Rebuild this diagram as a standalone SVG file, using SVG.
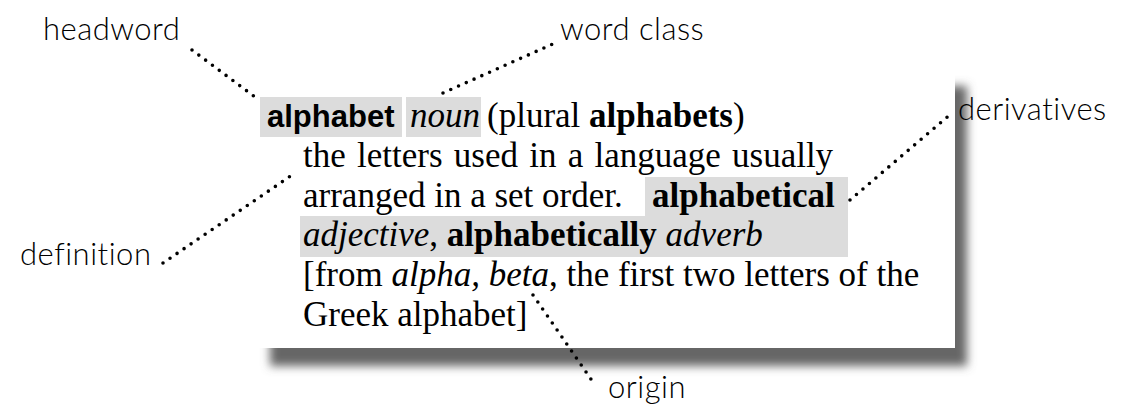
<svg xmlns="http://www.w3.org/2000/svg" width="1135" height="410" viewBox="0 0 1135 410">
<style>
.lbl{font-family:Lato,"Open Sans",sans-serif;font-weight:300;font-size:31px;letter-spacing:0.5px;fill:#000}
.ser{font-family:"Liberation Serif","Times New Roman",serif;font-size:35px;fill:#000}
.b{font-weight:bold}
.i{font-style:italic}
.hw{font-family:"Liberation Sans",Arial,sans-serif;font-weight:bold;font-size:31px}
.hl{fill:#dcdcdc}
.dot{stroke:#000;stroke-width:3.6;stroke-linecap:round;stroke-dasharray:0 8.5;fill:none}
</style>
<defs>
<filter id="sh" x="-10%" y="-10%" width="120%" height="130%">
<feGaussianBlur stdDeviation="5"/>
</filter>
</defs>
<rect width="1135" height="410" fill="#fff"/>
<g id="card">
<rect x="270" y="86" width="697" height="280" fill="#666" filter="url(#sh)"/>
<rect x="258" y="70" width="697" height="278" fill="#fff"/>
<rect class="hl" x="260" y="97" width="142" height="40"/>
<rect class="hl" x="406" y="97" width="75" height="40"/>
<rect class="hl" x="645" y="177" width="203" height="40"/>
<rect class="hl" x="300" y="216" width="548" height="41"/>
<text class="ser" y="127"><tspan class="hw" x="267">alphabet</tspan><tspan class="i" x="410">noun</tspan><tspan x="487">(plural </tspan><tspan class="b">alphabets</tspan>)</text>
<text class="ser" x="303" y="167" word-spacing="2.5">the letters used in a language usually</text>
<text class="ser" y="207"><tspan x="303">arranged in a set order.</tspan><tspan class="b" x="652">alphabetical</tspan></text>
<text class="ser" x="303" y="246"><tspan class="i">adjective</tspan>, <tspan class="b">alphabetically</tspan> <tspan class="i">adverb</tspan></text>
<text class="ser" x="303" y="286">[from <tspan class="i">alpha,</tspan> <tspan class="i">beta</tspan>, the first two letters of  the</text>
<text class="ser" x="303" y="326">Greek alphabet]</text>
</g>
<g id="connectors">
<line class="dot" x1="192" y1="50" x2="255" y2="97"/>
<line class="dot" x1="443" y1="93" x2="555" y2="43"/>
<line class="dot" x1="850" y1="200" x2="952" y2="113"/>
<line class="dot" x1="163" y1="263" x2="295" y2="173"/>
<line class="dot" x1="533" y1="295" x2="595" y2="385"/>
</g>
<g id="label-headword"><text class="lbl" x="43" y="40">headword</text></g>
<g id="label-wordclass"><text class="lbl" x="560" y="40">word class</text></g>
<g id="label-derivatives"><text class="lbl" x="958" y="120">derivatives</text></g>
<g id="label-definition"><text class="lbl" x="20" y="265">definition</text></g>
<g id="label-origin"><text class="lbl" x="608" y="398">origin</text></g>
</svg>
